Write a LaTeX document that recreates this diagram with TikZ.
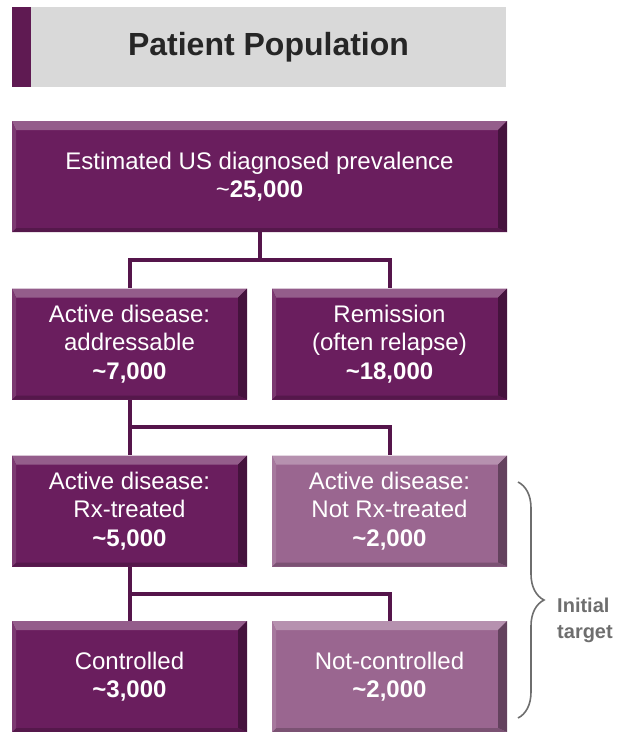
\documentclass[tikz,border=0pt]{standalone}
\usepackage{fontspec}
\setmainfont{Liberation Sans}
\usetikzlibrary{decorations.pathreplacing}
\definecolor{popdark}{HTML}{6A1E5E}
\definecolor{poplight}{HTML}{9A6690}
\definecolor{popstrip}{HTML}{5F1A52}
\definecolor{linkcol}{HTML}{55154B}
\definecolor{titlegray}{HTML}{D9D9D9}
\definecolor{titletext}{HTML}{262626}
\definecolor{bracegray}{HTML}{6E6E6E}
\newcommand\bevelpic[1]{
  % top band
  \fill[#1!72!white] (path picture bounding box.north west)
    -- (path picture bounding box.north east)
    -- ([shift={(-9pt,-9pt)}]path picture bounding box.north east)
    -- ([shift={(4pt,-9pt)}]path picture bounding box.north west) -- cycle;
  % right band
  \fill[#1!65!black] (path picture bounding box.north east)
    -- (path picture bounding box.south east)
    -- ([shift={(-9pt,4pt)}]path picture bounding box.south east)
    -- ([shift={(-9pt,-9pt)}]path picture bounding box.north east) -- cycle;
  % bottom band
  \fill[#1!80!black] (path picture bounding box.south west)
    -- (path picture bounding box.south east)
    -- ([shift={(-9pt,4pt)}]path picture bounding box.south east)
    -- ([shift={(4pt,4pt)}]path picture bounding box.south west) -- cycle;
  % left band
  \fill[#1!88!white] (path picture bounding box.north west)
    -- (path picture bounding box.south west)
    -- ([shift={(4pt,4pt)}]path picture bounding box.south west)
    -- ([shift={(4pt,-9pt)}]path picture bounding box.north west) -- cycle;
}
\tikzset{
  popbox/.style={fill=#1, minimum width=235pt, minimum height=111pt,
    inner sep=0pt, text=white, align=center,
    font=\fontsize{24}{28.5}\selectfont, path picture={\bevelpic{#1}}},
  link/.style={linkcol, line width=4pt},
}

\begin{document}
\begin{tikzpicture}[x=1pt, y=-1pt]
\useasboundingbox (0,0) rectangle (618,732);
% title bar
\fill[titlegray] (12,7) rectangle (506,87);
\fill[popstrip] (12,7) rectangle (31,87);
\node[text=titletext, font=\bfseries\fontsize{32}{38}\selectfont] (title) at (268.5,47) {Patient Population};

\node[popbox=popdark, minimum width=495pt] (prev) at (259.5,176.5)
  {Estimated US diagnosed prevalence\\\textasciitilde\textbf{25,000}};
\node[popbox=popdark] (addr) at (129.5,344)
  {Active disease:\\addressable\\\textbf{\textasciitilde7,000}};
\node[popbox=popdark] (remi) at (389.5,344)
  {Remission\\(often relapse)\\\textbf{\textasciitilde18,000}};
\node[popbox=popdark] (rxtr) at (129.5,511)
  {Active disease:\\Rx-treated\\\textbf{\textasciitilde5,000}};
\node[popbox=poplight] (notrx) at (389.5,511)
  {Active disease:\\Not Rx-treated\\\textbf{\textasciitilde2,000}};
\node[popbox=popdark] (ctrl) at (129.5,676.5)
  {Controlled\\\textbf{\textasciitilde3,000}};
\node[popbox=poplight] (nctrl) at (389.5,676.5)
  {Not-controlled\\\textbf{\textasciitilde2,000}};

\coordinate (j1) at (259.5,260);
\coordinate (j2) at (129.5,427);
\coordinate (j3) at (129.5,594);
\draw[link] (prev.south) -- (j1);
\draw[link] (addr.north) |- (j1) -| (remi.north);
\draw[link] (addr.south) -- (rxtr.north);
\draw[link] (j2) -| (notrx.north);
\draw[link] (rxtr.south) -- (ctrl.north);
\draw[link] (j3) -| (nctrl.north);

% initial target brace
\coordinate (btop) at (518,482);
\coordinate (bbot) at (518,718);
\draw[bracegray, line width=1.6pt, decorate, decoration={brace, amplitude=26pt}] (btop) -- (bbot);
\node[text=bracegray, align=left, font=\bfseries\fontsize{20}{26}\selectfont] (tgt) at (585,620) {Initial\\target};
\end{tikzpicture}
\end{document}
